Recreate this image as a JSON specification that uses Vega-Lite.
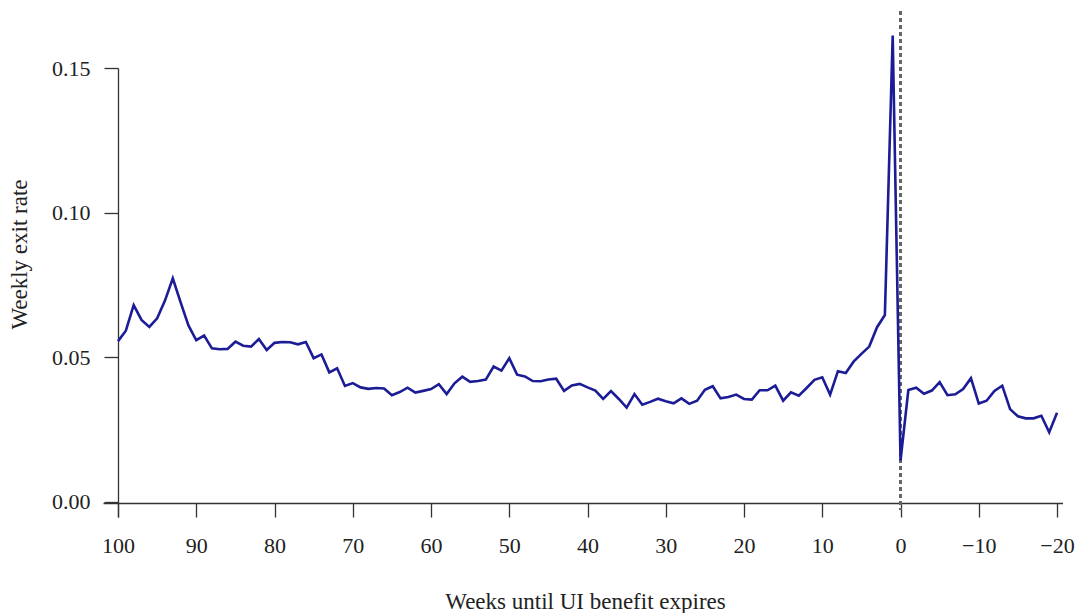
{
  "$schema": "https://vega.github.io/schema/vega-lite/v6.json",
  "autosize": {"type": "none"},
  "width": 959.5,
  "height": 449,
  "padding": {"left": 103, "top": 68, "right": 14.5, "bottom": 96},
  "background": "white",
  "config": {
    "view": {"stroke": null},
    "axis": {"grid": false, "labelFont": "Liberation Serif", "titleFont": "Liberation Serif", "labelFontSize": 22, "titleFontSize": 23, "titleFontWeight": "normal", "labelColor": "#222", "titleColor": "#222", "domainColor": "#333", "tickColor": "#333", "domainWidth": 1.3, "tickWidth": 1.3, "tickSize": 14}
  },
  "data": {"values": [
    {"w": 100, "r": 0.0556}, {"w": 99, "r": 0.0592}, {"w": 98, "r": 0.068}, {"w": 97, "r": 0.0629}, {"w": 96, "r": 0.0605},
    {"w": 95, "r": 0.0635}, {"w": 94, "r": 0.0696}, {"w": 93, "r": 0.0773}, {"w": 92, "r": 0.069}, {"w": 91, "r": 0.061},
    {"w": 90, "r": 0.0559}, {"w": 89, "r": 0.0575}, {"w": 88, "r": 0.0531}, {"w": 87, "r": 0.0528}, {"w": 86, "r": 0.0529},
    {"w": 85, "r": 0.0554}, {"w": 84, "r": 0.054}, {"w": 83, "r": 0.0537}, {"w": 82, "r": 0.0563}, {"w": 81, "r": 0.0525},
    {"w": 80, "r": 0.055}, {"w": 79, "r": 0.0553}, {"w": 78, "r": 0.0552}, {"w": 77, "r": 0.0545}, {"w": 76, "r": 0.0553},
    {"w": 75, "r": 0.0497}, {"w": 74, "r": 0.051}, {"w": 73, "r": 0.0448}, {"w": 72, "r": 0.0462}, {"w": 71, "r": 0.0401},
    {"w": 70, "r": 0.0411}, {"w": 69, "r": 0.0396}, {"w": 68, "r": 0.0391}, {"w": 67, "r": 0.0394}, {"w": 66, "r": 0.0392},
    {"w": 65, "r": 0.0369}, {"w": 64, "r": 0.038}, {"w": 63, "r": 0.0395}, {"w": 62, "r": 0.0378}, {"w": 61, "r": 0.0384},
    {"w": 60, "r": 0.039}, {"w": 59, "r": 0.0407}, {"w": 58, "r": 0.0373}, {"w": 57, "r": 0.041}, {"w": 56, "r": 0.0433},
    {"w": 55, "r": 0.0415}, {"w": 54, "r": 0.0418}, {"w": 53, "r": 0.0423}, {"w": 52, "r": 0.0468}, {"w": 51, "r": 0.0454},
    {"w": 50, "r": 0.0497}, {"w": 49, "r": 0.044}, {"w": 48, "r": 0.0434}, {"w": 47, "r": 0.0418}, {"w": 46, "r": 0.0417},
    {"w": 45, "r": 0.0423}, {"w": 44, "r": 0.0426}, {"w": 43, "r": 0.0384}, {"w": 42, "r": 0.0403}, {"w": 41, "r": 0.0408},
    {"w": 40, "r": 0.0396}, {"w": 39, "r": 0.0385}, {"w": 38, "r": 0.0356}, {"w": 37, "r": 0.0383}, {"w": 36, "r": 0.0356},
    {"w": 35, "r": 0.0326}, {"w": 34, "r": 0.0373}, {"w": 33, "r": 0.0336}, {"w": 32, "r": 0.0346}, {"w": 31, "r": 0.0357},
    {"w": 30, "r": 0.0348}, {"w": 29, "r": 0.0341}, {"w": 28, "r": 0.0358}, {"w": 27, "r": 0.0339}, {"w": 26, "r": 0.035},
    {"w": 25, "r": 0.0388}, {"w": 24, "r": 0.04}, {"w": 23, "r": 0.0358}, {"w": 22, "r": 0.0363}, {"w": 21, "r": 0.0371},
    {"w": 20, "r": 0.0356}, {"w": 19, "r": 0.0354}, {"w": 18, "r": 0.0386}, {"w": 17, "r": 0.0386}, {"w": 16, "r": 0.0402},
    {"w": 15, "r": 0.035}, {"w": 14, "r": 0.0379}, {"w": 13, "r": 0.0367}, {"w": 12, "r": 0.0394}, {"w": 11, "r": 0.0422},
    {"w": 10, "r": 0.0431}, {"w": 9, "r": 0.0371}, {"w": 8, "r": 0.0452}, {"w": 7, "r": 0.0446}, {"w": 6, "r": 0.0485},
    {"w": 5, "r": 0.0512}, {"w": 4, "r": 0.0537}, {"w": 3, "r": 0.0604}, {"w": 2, "r": 0.0646}, {"w": 1, "r": 0.1612},
    {"w": 0, "r": 0.0143}, {"w": -1, "r": 0.0387}, {"w": -2, "r": 0.0395}, {"w": -3, "r": 0.0374}, {"w": -4, "r": 0.0385},
    {"w": -5, "r": 0.0414}, {"w": -6, "r": 0.0369}, {"w": -7, "r": 0.0372}, {"w": -8, "r": 0.039}, {"w": -9, "r": 0.0428},
    {"w": -10, "r": 0.034}, {"w": -11, "r": 0.035}, {"w": -12, "r": 0.0384}, {"w": -13, "r": 0.0402}, {"w": -14, "r": 0.0321},
    {"w": -15, "r": 0.0296}, {"w": -16, "r": 0.0289}, {"w": -17, "r": 0.0289}, {"w": -18, "r": 0.0298}, {"w": -19, "r": 0.0241},
    {"w": -20, "r": 0.0308}
  ]},
  "layer": [
    {
      "mark": {"type": "rule", "color": "#666", "strokeWidth": 2, "strokeDash": [4, 3]},
      "encoding": {
        "x": {"datum": 0, "type": "quantitative"},
        "y": {"datum": 0.1697, "type": "quantitative"},
        "y2": {"datum": -0.0025}
      }
    },
    {
      "mark": {"type": "line", "color": "#1c1c96", "strokeWidth": 2.6, "clip": false},
      "encoding": {
        "x": {
          "field": "w", "type": "quantitative",
          "scale": {"domain": [101.92, -20.7], "nice": false, "zero": false},
          "axis": {"values": [100, 90, 80, 70, 60, 50, 40, 30, 20, 10, 0, -10, -20], "format": "d", "offset": -14, "labelPadding": 18, "title": "Weeks until UI benefit expires", "titlePadding": 34, "titleX": 482}
        },
        "y": {
          "field": "r", "type": "quantitative",
          "scale": {"domain": [-0.0052, 0.15], "nice": false, "zero": false},
          "axis": {"values": [0, 0.05, 0.1, 0.15], "format": ".2f", "offset": -15, "labelPadding": 14, "title": "Weekly exit rate", "titlePadding": 20, "titleY": 186}
        }
      }
    }
  ]
}
